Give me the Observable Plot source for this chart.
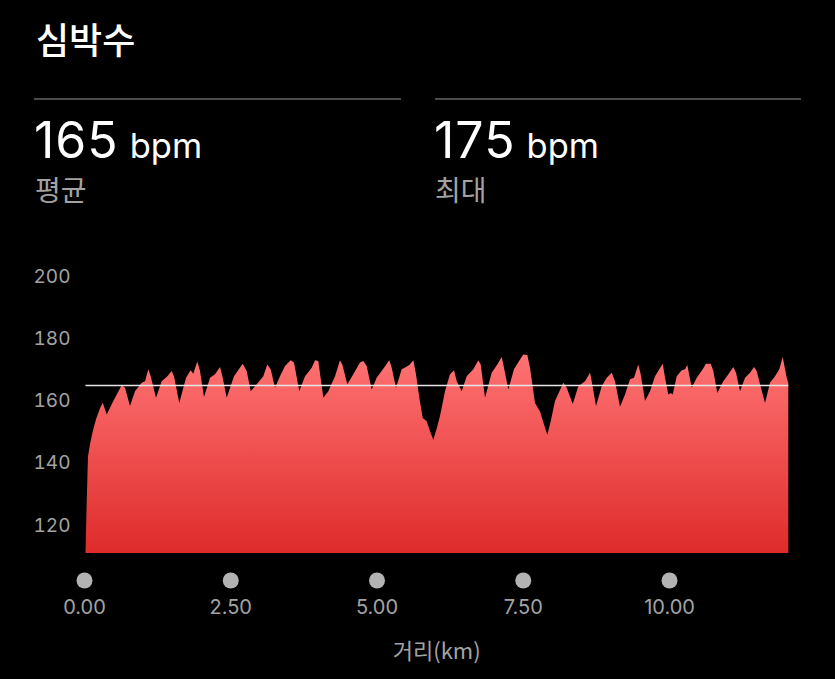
<!DOCTYPE html>
<html>
<head>
<meta charset="utf-8">
<script src="https://cdn.jsdelivr.net/npm/d3@7"></script>
<script src="https://cdn.jsdelivr.net/npm/@observablehq/plot@0.6"></script>
<style>
  html, body { margin: 0; padding: 0; background: #000; }
  #page { position: relative; width: 835px; height: 679px; background: #000; overflow: hidden;
          font-family: Inter, "Noto Sans CJK KR", sans-serif; }
  .abs { position: absolute; white-space: nowrap; line-height: 1; }
  .title { left: 36px; top: 20px; font-size: 36px; font-weight: 500; color: #fff; font-family: "Noto Sans CJK KR", sans-serif; }
  .sep { position: absolute; height: 2px; background: #4a4a4a; top: 98px; }
  .num { font-size: 50px; color: #fff; font-weight: 400; letter-spacing: 1px; }
  .unit { font-size: 34.5px; color: #fff; margin-left: 11px; }
  .sub { font-size: 28px; color: #a3a3a3; font-family: "Noto Sans CJK KR", sans-serif; }
  #chart { position: absolute; left: 0; top: 250px; }
</style>
</head>
<body>
<div id="page">
  <div class="abs title">심박수</div>
  <div class="sep" style="left:34px; width:367px;"></div>
  <div class="sep" style="left:435px; width:366px;"></div>
  <div class="abs" id="avgVal" style="left:34px; top:115px;"></div>
  <div class="abs sub" style="left:35px; top:175px;">평균</div>
  <div class="abs" id="maxVal" style="left:434px; top:115px;"></div>
  <div class="abs sub" style="left:435px; top:175px;">최대</div>
  <div id="chart"></div>
</div>
<script>
// ---- data ----
const distanceKm = [
  0.026, 0.043, 0.068, 0.103, 0.149, 0.205, 0.274, 0.320, 0.388, 0.501,
  0.644, 0.701, 0.786, 0.872, 0.986, 1.043, 1.099, 1.140, 1.231, 1.328,
  1.424, 1.499, 1.538, 1.629, 1.744, 1.824, 1.868, 1.937, 1.983, 2.051,
  2.154, 2.239, 2.325, 2.371, 2.439, 2.564, 2.713, 2.781, 2.850, 2.923,
  3.009, 3.065, 3.133, 3.191, 3.265, 3.350, 3.436, 3.533, 3.590, 3.680,
  3.778, 3.892, 3.949, 4.005, 4.091, 4.176, 4.291, 4.376, 4.415, 4.501,
  4.603, 4.718, 4.774, 4.832, 4.918, 5.003, 5.128, 5.219, 5.260, 5.333,
  5.431, 5.504, 5.561, 5.629, 5.675, 5.732, 5.790, 5.858, 5.915, 5.971,
  6.029, 6.085, 6.171, 6.256, 6.325, 6.371, 6.456, 6.542, 6.655, 6.740,
  6.781, 6.855, 6.969, 7.065, 7.140, 7.168, 7.253, 7.350, 7.453, 7.509,
  7.578, 7.624, 7.709, 7.795, 7.863, 7.920, 7.978, 8.051, 8.193, 8.251,
  8.354, 8.450, 8.564, 8.650, 8.679, 8.752, 8.850, 8.935, 9.021, 9.077,
  9.162, 9.248, 9.333, 9.402, 9.475, 9.516, 9.590, 9.675, 9.761, 9.834,
  9.892, 9.932, 9.988, 10.029, 10.063, 10.132, 10.217, 10.274, 10.313, 10.388,
  10.474, 10.576, 10.632, 10.713, 10.757, 10.826, 10.928, 11.014, 11.099, 11.145,
  11.214, 11.299, 11.385, 11.453, 11.499, 11.556, 11.641, 11.726, 11.812, 11.885,
  11.943, 12.012, 12.039
];
const heartRate = [
  111, 125, 142, 146, 150, 154, 157.5, 159.3, 155.5, 159.8,
  164.9, 164.1, 158.2, 163, 165.7, 166.2, 170, 167.8, 160.9, 166.2,
  167.8, 169.5, 167.8, 159.2, 167.3, 169.7, 168.6, 172.5, 169.5, 161.1,
  167.3, 168.4, 170.8, 167.3, 160.9, 167.8, 171.8, 169.5, 163, 164.6,
  166.5, 167.8, 171.6, 170, 164.1, 167.8, 171.1, 172.9, 172.2, 163,
  167.8, 170.5, 172.9, 172.7, 160.9, 163, 167.8, 172.9, 171.6, 165.2,
  168.4, 172.2, 172.7, 171.1, 163.5, 167.3, 170.5, 172.9, 170.5, 164.1,
  170, 170.8, 171.4, 172.9, 168.4, 160.9, 154.4, 153.3, 150.1, 147.4,
  151, 155, 163, 168.4, 169.7, 166.2, 163, 167.8, 170, 172.9,
  171.6, 160.9, 168.9, 171.6, 174, 171.6, 163.5, 170, 173.2, 174.8,
  174.6, 170.5, 159.2, 156.5, 152.3, 149, 153.3, 159.8, 165.7, 164.1,
  158.9, 164.6, 166.2, 168.9, 166.2, 158.2, 164.6, 167.3, 168.9, 166.2,
  158, 161.9, 166.8, 167.3, 171.6, 168.4, 159.8, 163, 167.8, 170,
  171.8, 167.3, 161.9, 162.4, 161.9, 167.8, 169.7, 170, 171.4, 164.1,
  167.3, 170, 171.8, 171.8, 169.5, 162.4, 166.2, 168.4, 170.8, 168.9,
  163, 167.3, 168.9, 170.8, 169.5, 165.2, 159.2, 165.7, 167.8, 170,
  174, 167.3, 165.7
];
const xTicks = [0, 2.5, 5, 7.5, 10];
const xTickLabels = ["0.00", "2.50", "5.00", "7.50", "10.00"];
const yTicks = [120, 140, 160, 180, 200];
const avgBpm = 165;
const maxBpm = 175;
const yBase = 111;
const yTop = 200;
const xLabel = "거리(km)";

// ---- header values ----
document.getElementById("avgVal").innerHTML = `<span class="num">${avgBpm}</span><span class="unit">bpm</span>`;
document.getElementById("maxVal").innerHTML = `<span class="num">${maxBpm}</span><span class="unit">bpm</span>`;

// ---- chart ----
const data = distanceKm.map((d, i) => ({km: d, hr: heartRate[i]}));
const xMax = distanceKm[distanceKm.length - 1];

const gradientDefs = () => {
  const defs = d3.create("svg:defs");
  const g = defs.append("linearGradient").attr("id", "hrGrad")
    .attr("x1", 0).attr("y1", 0).attr("x2", 0).attr("y2", 1);
  g.append("stop").attr("offset", "0%").attr("stop-color", "#ff7373");
  g.append("stop").attr("offset", "100%").attr("stop-color", "#df2b2b");
  return defs.node();
};

const chart = Plot.plot({
  width: 835,
  height: 429,
  marginLeft: 84,
  marginRight: 835 - 788.3,
  marginTop: 26,
  marginBottom: 126,
  x: {domain: [0, xMax], axis: null},
  y: {domain: [yBase, yTop], axis: null},
  style: {background: "transparent", overflow: "visible", fontFamily: "Inter, 'Noto Sans CJK KR', sans-serif"},
  marks: [
    gradientDefs,
    Plot.area(data, {x1: "km", y1: yBase, y2: "hr", fill: "url(#hrGrad)", curve: "linear"}),
    Plot.ruleY([avgBpm], {x1: distanceKm[0], x2: xMax, stroke: "#e6e6e6", strokeWidth: 1.5}),
    Plot.axisY(yTicks, {anchor: "left", tickSize: 0, tickPadding: 14, fontSize: 19, color: "#a3a3a3", label: null}),
    Plot.dot(xTicks, {x: d => d, frameAnchor: "bottom", dy: 27, r: 8, fill: "#b3b3b3", stroke: null}),
    Plot.text(xTicks, {x: d => d, text: (d, i) => xTickLabels[i], frameAnchor: "bottom", dy: 60, fontSize: 20, fill: "#a3a3a3"}),
    Plot.text([xLabel], {text: d => d, frameAnchor: "bottom", dy: 105, fontSize: 22, fill: "#a3a3a3", fontFamily: "'Noto Sans CJK KR', sans-serif"})
  ]
});
document.getElementById("chart").appendChild(chart);
</script>
</body>
</html>
